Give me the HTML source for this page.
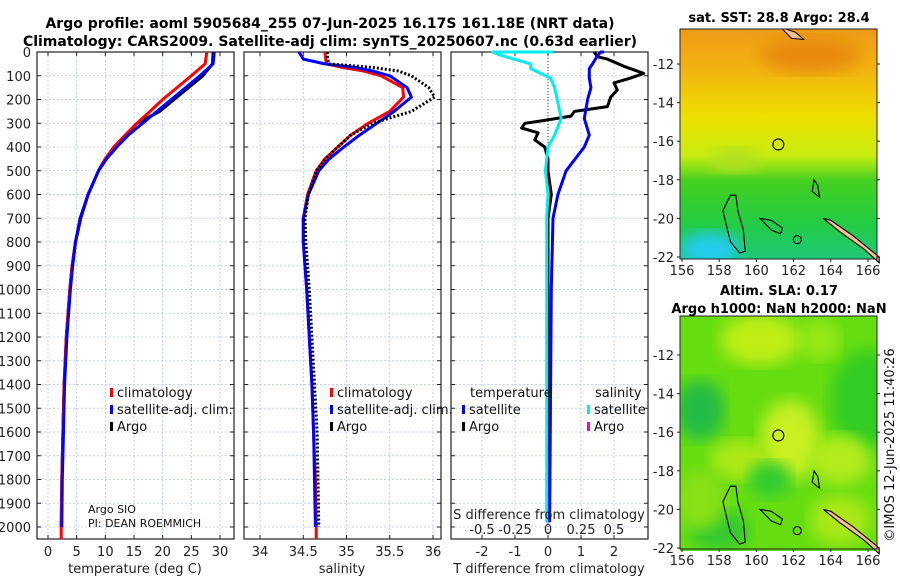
<!DOCTYPE html>
<html><head><meta charset="utf-8">
<style>
body{margin:0;background:#fff;width:900px;height:580px;overflow:hidden}
svg{font-family:"DejaVu Sans","Liberation Sans",sans-serif}
</style></head>
<body>
<svg id="chart" width="900" height="580" viewBox="0 0 900 580">
<defs>
<linearGradient id="sstg" x1="0" y1="0" x2="0" y2="1">
<stop offset="0" stop-color="#ee9a18"/><stop offset="0.18" stop-color="#f2b410"/>
<stop offset="0.38" stop-color="#eee000"/><stop offset="0.55" stop-color="#c8ec10"/>
<stop offset="0.66" stop-color="#44d020"/><stop offset="0.85" stop-color="#22cc44"/>
<stop offset="1" stop-color="#20c878"/></linearGradient>
<filter id="blur"><feGaussianBlur stdDeviation="8"/></filter>
<clipPath id="cm1"><rect x="680" y="29" width="197" height="230"/></clipPath>
<clipPath id="cm2"><rect x="680" y="316" width="197" height="235"/></clipPath>
</defs>
<g id="root"></g>
</svg>
<script>
// ---- data ----
const depthsT = [0,50,100,150,200,250,300,350,400,450,500,600,700,800,900,1000,1200,1400,1600,1800,2000];
const tempClim = [27.7,27.4,25,22.5,20,17.8,15.5,13.5,11.5,10,8.8,7,5.7,4.8,4.2,3.8,3.2,2.8,2.6,2.4,2.3];
const tempSat  = [29,28.8,26.5,24,21.5,19,16.5,14,12,10.2,8.8,7,5.7,4.8,4.3,3.9,3.3,2.9,2.7,2.5,2.4];
const tempArgo = [28.8,28.7,27,24.5,22,19.5,15.5,13.5,11.5,10,8.8,7,5.6,4.8,4.2,3.8,3.2,2.8,2.6,2.4,2.3];
const depthsS = [0,30,50,65,80,100,150,190,250,300,350,400,450,500,600,700,800,900,1000,1200,1400,1600,1800,2000];
const salClim = [34.75,34.76,34.77,34.95,35.2,35.4,35.65,35.66,35.5,35.25,35.05,34.9,34.75,34.65,34.55,34.5,34.5,34.52,34.54,34.57,34.6,34.62,34.64,34.65];
const salSat  = [34.45,34.5,34.75,35.1,35.3,35.5,35.7,35.75,35.55,35.35,35.15,34.97,34.8,34.68,34.56,34.5,34.5,34.52,34.54,34.57,34.6,34.62,34.63,34.64];
const salArgo = [34.78,34.78,34.8,35.3,35.6,35.75,35.95,36.02,35.75,35.3,35.05,34.9,34.76,34.65,34.56,34.52,34.53,34.55,34.57,34.6,34.63,34.66,34.67,34.68];
const depthsD = [0,20,30,60,90,110,130,160,190,230,250,270,290,300,320,340,370,400,450,500,600,700,800,1000,1500,1980];
const dTArgo = [1.4,1.5,1.8,2.3,2.9,2.5,2.0,2.1,1.9,1.8,0.8,0.7,-0.2,-0.7,-0.8,-0.3,-0.4,-0.1,0,0,0.1,0,0,0,0,0];
const depthsDS = [0,0,15,50,70,110,150,200,280,350,400,500,600,700,1000,1980];
const dTSat = [1.7,1.6,1.5,1.35,1.25,1.25,1.3,1.2,1.1,1.25,1.1,0.55,0.3,0.15,0.1,0.05];
const dSSat = [0.04,-0.42,-0.35,-0.13,-0.13,0.02,0.05,0.07,0.1,0.05,0,-0.02,0,-0.01,-0.01,-0.01];
const depthTicks = [0,100,200,300,400,500,600,700,800,900,1000,1100,1200,1300,1400,1500,1600,1700,1800,1900,2000];
const tTicks = [0,5,10,15,20,25,30];
const sTicks = [34,34.5,35,35.5,36];
const dtTicks = [-2,-1,0,1,2];
const dsTicks = [-0.5,-0.25,0,0.25,0.5];
const dsTickLabels = ["-0.5","-0.25","0","0.25","0.5"];
const lonTicks = [156,158,160,162,164,166];
const latTicks1 = [-12,-14,-16,-18,-20,-22];
const latTicks2 = [-12,-14,-16,-18,-20,-22];
const argoLon = 161.18, argoLat = -16.17;

// ---- scales ----
const Y = d => 52 + d*0.2375;
const XT = t => 48 + t*5.733;
const XS = s => 260 + (s-34)*86.5;
const XDT = v => 548 + v*33;
const XDS = v => 548 + v*132;
const LON = l => 682 + (l-156)*18.6;
const LAT1 = a => 64 + (-12-a)*19.3;
const LAT2 = a => 355 + (-12-a)*19.3;
const TOP=52, BOT=539;

const NS="http://www.w3.org/2000/svg";
const root=document.getElementById('root');
function mk(tag,attrs,parent){const e=document.createElementNS(NS,tag);for(const k in attrs)e.setAttribute(k,attrs[k]);(parent||root).appendChild(e);return e;}
function txt(x,y,s,opts,parent){const e=mk('text',Object.assign({x:x,y:y,'font-size':13,fill:'#222'},opts||{}),parent);e.textContent=s;return e;}
function line(xs,ds,xf,color,w,dash,name){
  const pts=xs.map((v,i)=>xf(v).toFixed(1)+','+Y(ds[i]).toFixed(1)).join(' ');
  const p=mk('polyline',{points:pts,fill:'none',stroke:color,'stroke-width':w,'stroke-linejoin':'round'});
  if(dash)p.setAttribute('stroke-dasharray',dash);
  
  
  return p;
}
function panel(x0,x1,ticks,xf,labels,name){
  const g=mk('g',{});
  
  
  depthTicks.forEach(d=>{mk('line',{x1:x0,x2:x1,y1:Y(d),y2:Y(d),stroke:'#b8c4ee','stroke-width':0.8,'stroke-dasharray':'2,2'},g);
    mk('line',{x1:x0,x2:x0+4,y1:Y(d),y2:Y(d),stroke:'#222'},g);mk('line',{x1:x1-4,x2:x1,y1:Y(d),y2:Y(d),stroke:'#222'},g);});
  ticks.forEach((t,i)=>{const x=xf(t);mk('line',{x1:x,x2:x,y1:TOP,y2:BOT,stroke:'#b8c4ee','stroke-width':0.8,'stroke-dasharray':'2,2'},g);
    mk('line',{x1:x,x2:x,y1:BOT-4,y2:BOT,stroke:'#222'},g);mk('line',{x1:x,x2:x,y1:TOP,y2:TOP+4,stroke:'#222'},g);
    if(labels){const l=txt(x,556,labels[i],{'text-anchor':'middle'},g);}});
  mk('rect',{x:x0,y:TOP,width:x1-x0,height:BOT-TOP,fill:'none',stroke:'#222','stroke-width':1.2},g);
  return g;
}

// titles
let t1=txt(330,28,'Argo profile: aoml 5905684_255 07-Jun-2025 16.17S 161.18E (NRT data)',{'text-anchor':'middle','font-weight':'bold','font-size':14,fill:'#000'});

let t2=txt(330,46,'Climatology: CARS2009. Satellite-adj clim: synTS_20250607.nc (0.63d earlier)',{'text-anchor':'middle','font-weight':'bold','font-size':14,fill:'#000'});


// panel 1
panel(37,234,tTicks,XT,tTicks.map(String),'temperature-panel');
depthTicks.forEach(d=>{const l=txt(31,Y(d)+5,String(d),{'text-anchor':'end'});});
line(tempArgo,depthsT,XT,'#000',3,null,'temp-argo-line');
line(tempClim,depthsT.concat([2050]).slice(0,depthsT.length),XT,'#ff0000',3,null,'temp-climatology-line');
mk('line',{x1:XT(2.3),x2:XT(2.3),y1:Y(2000),y2:BOT,stroke:'#f00','stroke-width':3});
line(tempSat,depthsT,XT,'#0000ff',3,null,'temp-satellite-line');
let xl=txt(135,573,'temperature (deg C)',{'text-anchor':'middle'});

// panel 2
panel(244,441,sTicks,XS,['34','34.5','35','35.5','36'],'salinity-panel');
line(salClim,depthsS,XS,'#ff0000',3,null,'sal-climatology-line');
mk('line',{x1:XS(34.65),x2:XS(34.65),y1:Y(2000),y2:BOT,stroke:'#f00','stroke-width':3});
line(salSat,depthsS,XS,'#0000ff',3,null,'sal-satellite-line');
line(salArgo,depthsS,XS,'#000',3,'2,2','sal-argo-line');
let xl2=txt(342,573,'salinity',{'text-anchor':'middle'});

// panel 3
panel(451,648,dtTicks,XDT,dtTicks.map(String),'difference-panel');
mk('line',{x1:548,x2:548,y1:TOP,y2:BOT,stroke:'#444','stroke-width':1,'stroke-dasharray':'1,2'});
line(dTArgo,depthsD,XDT,'#000',3,null,'dt-argo-line');
line(dTSat,depthsDS,XDT,'#0000ff',3,null,'dt-satellite-line');
line(dSSat,depthsDS,XDS,'#00eeee',3,null,'ds-satellite-line');
let xl3=txt(549,573,'T difference from climatology',{'text-anchor':'middle'});
let st=txt(549,519,'S difference from climatology',{'text-anchor':'middle'});
dsTicks.forEach((v,i)=>{const l=txt(XDS(v),534,dsTickLabels[i],{'text-anchor':'middle'});});

// legends
function leg(x,y,color,label,name){const g=mk('g',{});
  mk('rect',{x:x,y:y-9,width:3,height:9,fill:color},g);txt(x+7,y,label,{fill:'#111'},g);}
leg(110,397,'#f00','climatology','legend-climatology');
leg(110,414,'#00f','satellite-adj. clim.','legend-satellite-adj');
leg(110,431,'#000','Argo','legend-argo');
leg(330,397,'#f00','climatology','legend-climatology-sal');
leg(330,414,'#00f','satellite-adj. clim.','legend-satellite-adj-sal');
leg(330,431,'#000','Argo','legend-argo-sal');
txt(470,397,'temperature',{fill:'#111'});
leg(462,414,'#00f','satellite','legend-t-satellite');
leg(462,431,'#000','Argo','legend-t-argo');
txt(595,397,'salinity',{fill:'#111'});
leg(587,414,'#0ee','satellite','legend-s-satellite');
leg(587,431,'#e0e','Argo','legend-s-argo');
txt(88,513,'Argo SIO',{'font-size':11,fill:'#111'});
txt(88,527,'PI: DEAN ROEMMICH',{'font-size':11,fill:'#111'});

// map 1 (SST)
const m1=mk('g',{'clip-path':'url(#cm1)'});

mk('rect',{x:680,y:29,width:197,height:230,fill:'url(#sstg)'},m1);
mk('ellipse',{cx:710,cy:250,rx:30,ry:18,fill:'#22ccee',filter:'url(#blur)'},m1);
mk('ellipse',{cx:810,cy:55,rx:50,ry:18,fill:'#e88a10',filter:'url(#blur)'},m1);
mk('ellipse',{cx:735,cy:160,rx:25,ry:12,fill:'#b0e020',filter:'url(#blur)'},m1);
// map 2 (SLA)
const m2=mk('g',{'clip-path':'url(#cm2)'});

mk('rect',{x:680,y:316,width:197,height:235,fill:'#66dd11'},m2);
[[700,410,25,30,'#22bb44'],[870,400,40,50,'#33cc22'],[820,340,20,20,'#99e814'],[760,340,40,25,'#c0ee18'],[790,440,30,40,'#c8f020'],[740,460,30,20,'#aee818'],[770,480,22,18,'#33cc33'],[840,460,30,25,'#b4ec1c'],[720,530,30,20,'#33c833'],[840,520,30,25,'#aae818'],[700,500,25,30,'#88e014']].forEach(b=>mk('ellipse',{cx:b[0],cy:b[1],rx:b[2],ry:b[3],fill:b[4],filter:'url(#blur)'},m2));
// coastlines
function coast(lat){
  const g=mk('g',{fill:'none',stroke:'#000','stroke-width':1.1});
  
  const P=(lo,la)=>LON(lo).toFixed(1)+','+lat(la).toFixed(1);
  mk('path',{d:'M'+P(158.6,-18.8)+' L'+P(158.9,-18.8)+' L'+P(159.0,-19.6)+' L'+P(159.3,-20.6)+' L'+P(159.4,-21.7)+' L'+P(159.1,-21.8)+' L'+P(158.6,-21.2)+' L'+P(158.4,-20.4)+' L'+P(158.2,-19.6)+' Z'},g);
  mk('path',{d:'M'+P(160.2,-20.0)+' L'+P(160.8,-20.1)+' L'+P(161.4,-20.5)+' L'+P(161.3,-20.8)+' L'+P(160.8,-20.6)+' Z'},g);
  mk('path',{d:'M'+P(163.1,-18.0)+' L'+P(163.3,-18.3)+' L'+P(163.4,-18.9)+' L'+P(163.0,-18.6)+' Z'},g);
  mk('circle',{cx:LON(162.2),cy:lat(-21.1),r:4},g);
  mk('path',{d:'M'+P(163.6,-20.0)+' L'+P(164.5,-20.7)+' L'+P(165.8,-21.6)+' L'+P(166.6,-22.3)+' L'+P(166.6,-22.0)+' L'+P(165.2,-20.9)+' L'+P(164.0,-20.1)+' Z',fill:'#f7c08e'},g);
  mk('circle',{cx:LON(argoLon),cy:lat(argoLat),r:5.5},g);
}
coast(LAT1);coast(LAT2);
// top-left island in map1
mk('path',{d:'M'+LON(161.3)+','+LAT1(-10.1)+' l15,5 l8,7 l-12,-1 z',fill:'#f7c08e',stroke:'#000','clip-path':'url(#cm1)'});
function mapAxes(y0,y1,lat,latTicks,name){
  const g=mk('g',{});
  mk('rect',{x:680,y:y0,width:197,height:y1-y0,fill:'none',stroke:'#222'},g);
  lonTicks.forEach(l=>{mk('line',{x1:LON(l),x2:LON(l),y1:y1,y2:y1+3,stroke:'#222'},g);txt(LON(l),y1+16,String(l),{'text-anchor':'middle'},g);});
  latTicks.forEach(a=>{const y=lat(a);if(y<y0||y>y1+2)return;mk('line',{x1:677,x2:680,y1:y,y2:y,stroke:'#222'},g);mk('line',{x1:877,x2:880,y1:y,y2:y,stroke:'#222'},g);txt(674,y+5,String(a),{'text-anchor':'end'},g);});
}
mapAxes(29,259,LAT1,latTicks1,'sst-map-axes');
mapAxes(316,549,LAT2,latTicks2,'sla-map-axes');
let mt1=txt(779,22,'sat. SST: 28.8 Argo: 28.4',{'text-anchor':'middle','font-weight':'bold',fill:'#000'});
let mt2=txt(779,295,'Altim. SLA: 0.17',{'text-anchor':'middle','font-weight':'bold',fill:'#000'});
let mt3=txt(779,313,'Argo h1000: NaN h2000: NaN',{'text-anchor':'middle','font-weight':'bold',fill:'#000'});
let cr=txt(0,0,'©IMOS 12-Jun-2025 11:40:26',{'text-anchor':'middle','transform':'translate(894,445) rotate(-90)',fill:'#111'});
</script>
</body></html>
